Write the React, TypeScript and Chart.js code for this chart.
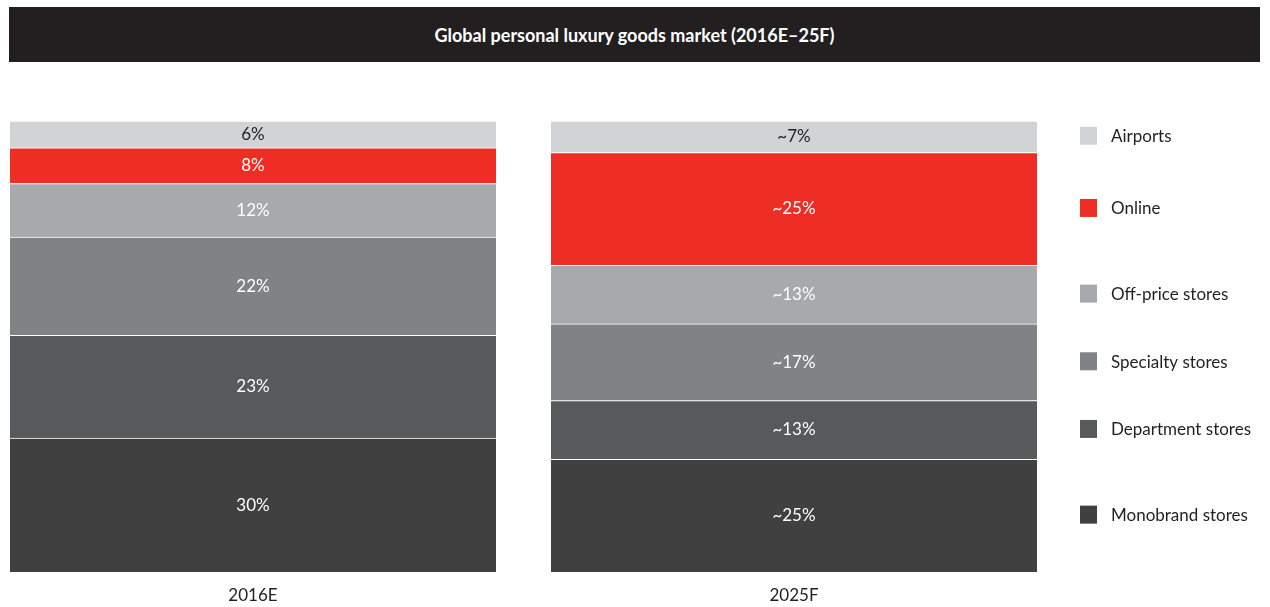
import React, { useEffect, useRef } from "react";
import { Chart, registerables } from "chart.js";

Chart.register(...registerables);

const titleText = "Global personal luxury goods market (2016E–25F)";
const categories = ["2016E", "2025F"];
// bottom to top
const channels = ["Monobrand stores", "Department stores", "Specialty stores", "Off-price stores", "Online", "Airports"];
const values2016 = [30, 23, 22, 12, 8, 6];
const values2025 = [25, 13, 17, 13, 25, 7];
const labels2016 = ["30%", "23%", "22%", "12%", "8%", "6%"];
const labels2025 = ["~25%", "~13%", "~17%", "~13%", "~25%", "~7%"];
const colors = ["#404040", "#58595b", "#808285", "#a7a9ac", "#ee2e24", "#d1d3d4"];
const labelColors = ["#ffffff", "#ffffff", "#ffffff", "#ffffff", "#ffffff", "#231f20"];

const FONT = "Lato, 'Noto Sans', sans-serif";

export default function App() {
  const ref = useRef<HTMLCanvasElement | null>(null);

  useEffect(() => {
    if (!ref.current) return;
    const sum16 = values2016.reduce((a, b) => a + b, 0);
    const sum25 = values2025.reduce((a, b) => a + b, 0);
    const datasets = channels.map((name, i) => ({
      label: name,
      data: [(values2016[i] / sum16) * 100, (values2025[i] / sum25) * 100],
      backgroundColor: colors[i],
      borderColor: "#ffffff",
      borderWidth: { top: 1, left: 0, right: 0, bottom: 0 },
      borderSkipped: false as any,
      barThickness: 486,
    }));
    const valueLabels = [labels2016, labels2025];

    const overlay = {
      id: "overlay",
      afterDatasetsDraw(chart: any) {
        const ctx = chart.ctx;
        ctx.save();
        ctx.textAlign = "center";
        ctx.textBaseline = "middle";
        ctx.font = `17px ${FONT}`;
        chart.data.datasets.forEach((_ds: any, di: number) => {
          const meta = chart.getDatasetMeta(di);
          meta.data.forEach((bar: any, ci: number) => {
            const cy = (bar.y + bar.base) / 2;
            ctx.fillStyle = labelColors[di];
            ctx.fillText(valueLabels[ci][di], bar.x, cy);
          });
        });
        // category labels
        const m0 = chart.getDatasetMeta(0);
        ctx.fillStyle = "#231f20";
        m0.data.forEach((bar: any, ci: number) => {
          ctx.fillText(categories[ci], bar.x, chart.chartArea.bottom + 24);
        });
        // legend aligned with 2025 segments
        const legendX = 1110;
        chart.data.datasets.forEach((_ds: any, di: number) => {
          const bar = chart.getDatasetMeta(di).data[1];
          const cy = (bar.y + bar.base) / 2 - 1;
          ctx.fillStyle = colors[di];
          ctx.fillRect(legendX, cy - 9, 17, 18);
          ctx.fillStyle = "#231f20";
          ctx.textAlign = "left";
          ctx.fillText(channels[di], legendX + 31, cy + 1);
          ctx.textAlign = "center";
        });
        ctx.restore();
      },
    };

    const chart = new Chart(ref.current, {
      type: "bar",
      data: { labels: categories, datasets },
      options: {
        animation: false,
        responsive: false,
        maintainAspectRatio: false,
        layout: { padding: { left: 12.5, right: 205.5, top: 121, bottom: 35 } },
        plugins: { legend: { display: false }, tooltip: { enabled: false }, title: { display: false } },
        scales: {
          x: { stacked: true, display: false, offset: true, grid: { display: false } },
          y: { stacked: true, display: false, min: 0, max: 100, grid: { display: false } },
        },
      },
      plugins: [overlay],
    });
    return () => chart.destroy();
  }, []);

  return (
    <div style={{ position: "fixed", left: 0, top: 0, width: 1270, height: 607, overflow: "hidden", background: "#fff" }}>
      <div
        style={{
          position: "absolute",
          left: 9,
          top: 7,
          width: 1251,
          height: 55,
          background: "#231f20",
          color: "#fff",
          fontFamily: FONT,
          fontWeight: 700,
          fontSize: 18,
          display: "flex",
          alignItems: "center",
          justifyContent: "center",
        }}
      >
        {titleText}
      </div>
      <canvas ref={ref} width={1300} height={607} style={{ position: "absolute", left: -30, top: 0, width: 1300, height: 607 }} />
    </div>
  );
}
